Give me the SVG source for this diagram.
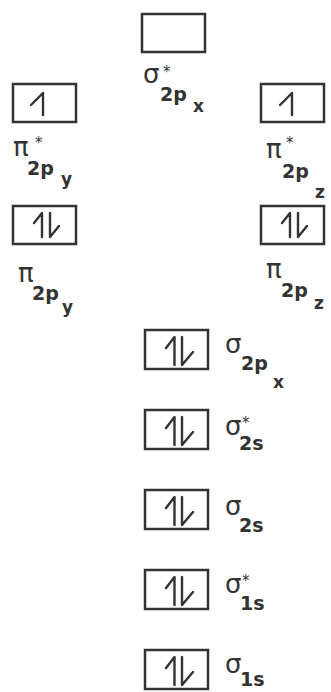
<svg xmlns="http://www.w3.org/2000/svg" width="331" height="692" viewBox="0 0 331 692">
<style>
.box{fill:none;stroke:#333;stroke-width:2.5}
.sp{fill:none;stroke:#333;stroke-width:2.4;stroke-linecap:round;stroke-linejoin:round}
.g{font-family:"DejaVu Sans",sans-serif;font-size:26px;fill:#333}
.st{font-family:"DejaVu Sans",sans-serif;font-size:15px;fill:#333}
.sb{font-family:"DejaVu Sans",sans-serif;font-weight:bold;font-size:19px;fill:#333}
.ss{font-family:"DejaVu Sans",sans-serif;font-weight:bold;font-size:17px;fill:#333}
</style>
<rect width="331" height="692" fill="#fff"/>

<g id="sigma-star-2px">
<rect class="box" x="142" y="14" width="63" height="38"/>
<text class="g" x="143" y="83">σ</text>
<text class="st" x="163" y="77">*</text>
<text class="sb" x="160" y="101">2p</text>
<text class="ss" x="193" y="112">x</text>
</g>

<g id="pi-star-2py">
<rect class="box" x="13" y="84" width="63" height="38"/>
<path class="sp" d="M43 115V93L31 105"/>
<text class="g" x="13" y="156">π</text>
<text class="st" x="35" y="148">*</text>
<text class="sb" x="27" y="175">2p</text>
<text class="ss" x="61" y="185">y</text>
</g>

<g id="pi-star-2pz">
<rect class="box" x="261" y="84" width="63" height="38"/>
<path class="sp" d="M292 115V93L280 105"/>
<text class="g" x="266" y="158">π</text>
<text class="st" x="286" y="148">*</text>
<text class="sb" x="282" y="178">2p</text>
<text class="ss" x="315" y="198">z</text>
</g>

<g id="pi-2py">
<rect class="box" x="13" y="206" width="63" height="38"/>
<path class="sp" d="M42 237V213L34 223M50 213V237L59 226"/>
<text class="g" x="18" y="282">π</text>
<text class="sb" x="32" y="300">2p</text>
<text class="ss" x="62" y="313">y</text>
</g>

<g id="pi-2pz">
<rect class="box" x="261" y="206" width="63" height="38"/>
<path class="sp" d="M290 237V213L282 223M298 213V237L307 226"/>
<text class="g" x="266" y="278">π</text>
<text class="sb" x="281" y="297">2p</text>
<text class="ss" x="314" y="309">z</text>
</g>

<g id="sigma-2px">
<rect class="box" x="145" y="330" width="63" height="39"/>
<path class="sp" d="M174.5 365V337L166 348M182 337V365L193 352"/>
<text class="g" x="225" y="353">σ</text>
<text class="sb" x="241" y="370">2p</text>
<text class="ss" x="273" y="388">x</text>
</g>

<g id="sigma-star-2s">
<rect class="box" x="145" y="410" width="63" height="39"/>
<path class="sp" d="M174.5 445V417L166 428M182 417V445L193 432"/>
<text class="g" x="225" y="435">σ</text>
<text class="st" x="242" y="428">*</text>
<text class="sb" x="239" y="450">2s</text>
</g>

<g id="sigma-2s">
<rect class="box" x="145" y="490" width="63" height="39"/>
<path class="sp" d="M174.5 525V497L166 508M182 497V525L193 512"/>
<text class="g" x="225" y="515">σ</text>
<text class="sb" x="239" y="532">2s</text>
</g>

<g id="sigma-star-1s">
<rect class="box" x="145" y="570" width="63" height="39"/>
<path class="sp" d="M174.5 605V577L166 588M182 577V605L193 592"/>
<text class="g" x="225" y="593">σ</text>
<text class="st" x="242" y="586">*</text>
<text class="sb" x="240" y="610">1s</text>
</g>

<g id="sigma-1s">
<rect class="box" x="145" y="650" width="63" height="39"/>
<path class="sp" d="M174.5 685V657L166 668M182 657V685L193 672"/>
<text class="g" x="225" y="673">σ</text>
<text class="sb" x="240" y="686">1s</text>
</g>
</svg>
